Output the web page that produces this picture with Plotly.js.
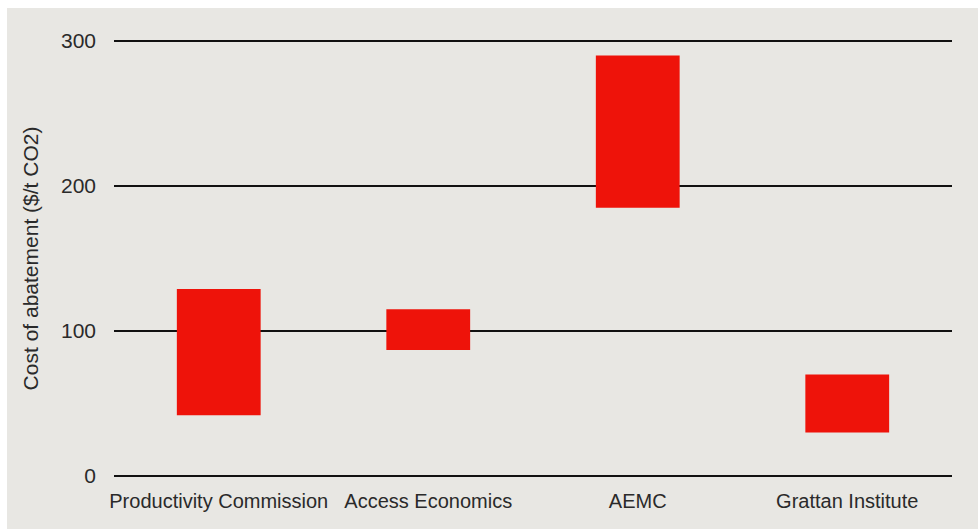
<!DOCTYPE html>
<html>
<head>
<meta charset="utf-8">
<script src="https://cdn.plot.ly/plotly-3.0.1.min.js"></script>
<style>
  html, body { margin: 0; padding: 0; background: #ffffff; width: 978px; height: 529px; overflow: hidden; }
  #chart { position: absolute; left: 7px; top: 8px; width: 971px; height: 521px; }
</style>
</head>
<body>
<div id="chart"></div>
<script>
// Data
var categories = ["Productivity Commission", "Access Economics", "AEMC", "Grattan Institute"];
var lowValues  = [42, 87, 185, 30];
var highValues = [129, 115, 290, 70];
var yTickValues = [0, 100, 200, 300];
var yTitle = "Cost of abatement ($/t CO2)";

var spans = highValues.map(function (h, i) { return h - lowValues[i]; });

var trace = {
  type: "bar",
  x: categories,
  y: spans,
  base: lowValues,
  marker: { color: "#ee130a", line: { width: 0 } },
  hoverinfo: "skip"
};

var fontFamily = "Liberation Sans, Arial, sans-serif";
var textColor = "#2a2a2a";

var layout = {
  width: 971,
  height: 521,
  margin: { l: 107, r: 26, t: 30, b: 50 },
  paper_bgcolor: "#e8e7e3",
  plot_bgcolor: "#e8e7e3",
  showlegend: false,
  bargap: 0.6,
  font: { family: fontFamily, size: 20, color: textColor },
  xaxis: {
    type: "category",
    range: [-0.5, 3.5],
    showgrid: false,
    zeroline: false,
    showline: false,
    ticks: "",
    ticklabelstandoff: 8,
    tickfont: { family: fontFamily, size: 20, color: textColor },
    fixedrange: true
  },
  yaxis: {
    range: [-2, 302],
    tickmode: "array",
    tickvals: yTickValues,
    ticktext: yTickValues.map(String),
    showgrid: true,
    gridcolor: "#111111",
    gridwidth: 2.3,
    zeroline: false,
    showline: false,
    ticks: "",
    ticklabelstandoff: 17,
    tickfont: { family: fontFamily, size: 21, color: textColor },
    title: { text: yTitle, font: { family: fontFamily, size: 21, color: textColor }, standoff: 16 },
    fixedrange: true
  }
};

Plotly.newPlot("chart", [trace], layout, { displayModeBar: false, staticPlot: true });
</script>
</body>
</html>
